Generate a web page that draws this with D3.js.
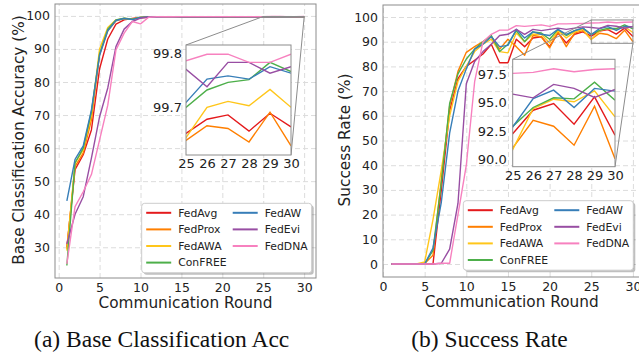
<!DOCTYPE html>
<html>
<head>
<meta charset="utf-8">
<script src="https://cdn.jsdelivr.net/npm/d3@7"></script>
<style>
  body { margin: 0; background: #fff; }
  svg { display: block; }
</style>
</head>
<body>
<svg id="fig" width="639" height="353"></svg>
<script>
// ---- data ----
const rounds = [1, 2, 3, 4, 5, 6, 7, 8, 9, 10, 11, 12, 13, 14, 15, 16, 17, 18, 19, 20, 21, 22, 23, 24, 25, 26, 27, 28, 29, 30];
const methods = ['FedAvg', 'FedProx', 'FedAWA', 'ConFREE', 'FedAW', 'FedEvi', 'FedDNA'];
const colors = ['#e41a1c', '#ff7f00', '#ffc61a', '#4daf4a', '#377eb8', '#984ea3', '#f781bf'];

// (a) base classification accuracy (%)
const accFedAvg  = [30, 53.5, 58, 65.5, 84, 93, 97.5, 98.8, 99.2, 99.5, 99.6, 99.62, 99.64, 99.63, 99.65, 99.66, 99.64, 99.67, 99.65, 99.66, 99.67, 99.68, 99.66, 99.67, 99.652, 99.678, 99.686, 99.656, 99.689, 99.664];
const accFedProx = [29.5, 54.5, 58.5, 68.5, 88.5, 95.5, 98.5, 99.2, 99.1, 99.5, 99.6, 99.61, 99.63, 99.62, 99.64, 99.65, 99.63, 99.66, 99.64, 99.65, 99.66, 99.65, 99.64, 99.66, 99.639, 99.666, 99.661, 99.636, 99.691, 99.629];
const accFedAWA  = [29, 55.5, 59.5, 70, 90, 96.5, 98.8, 99.2, 99.0, 99.5, 99.62, 99.64, 99.66, 99.65, 99.67, 99.68, 99.67, 99.69, 99.68, 99.69, 99.7, 99.69, 99.7, 99.69, 99.644, 99.7, 99.711, 99.703, 99.733, 99.7];
const accConFREE = [24.5, 55.5, 60, 71, 88.5, 96, 98.8, 99.3, 99.0, 99.55, 99.65, 99.67, 99.69, 99.68, 99.7, 99.71, 99.7, 99.72, 99.71, 99.72, 99.73, 99.72, 99.71, 99.72, 99.7, 99.732, 99.746, 99.751, 99.783, 99.766];
const accFedAW   = [44, 56.6, 60.7, 71.5, 88, 95.5, 98.6, 99.2, 98.9, 99.55, 99.66, 99.68, 99.7, 99.69, 99.71, 99.72, 99.71, 99.73, 99.72, 99.73, 99.74, 99.73, 99.72, 99.73, 99.709, 99.752, 99.758, 99.752, 99.775, 99.763];
const accFedEvi  = [31, 40, 45.3, 57, 69.5, 78.2, 90.7, 96, 98.3, 99.3, 99.65, 99.7, 99.72, 99.73, 99.74, 99.75, 99.74, 99.76, 99.75, 99.76, 99.77, 99.76, 99.77, 99.76, 99.77, 99.738, 99.783, 99.783, 99.763, 99.775];
const accFedDNA  = [25, 42.3, 46.8, 52, 62.5, 73, 89.7, 94.8, 98.3, 97.6, 99.6, 99.72, 99.75, 99.76, 99.77, 99.78, 99.77, 99.78, 99.79, 99.78, 99.79, 99.78, 99.79, 99.78, 99.786, 99.798, 99.798, 99.783, 99.783, 99.798];

// (b) success rate (%)
const srFedAvg  = [0, 0, 0, 0, 0, 0, 30, 62, 75, 80, 82.5, 85, 89, 81.5, 81.5, 91, 88, 91.5, 92, 88, 93.5, 89.5, 93, 94, 92.26, 94.32, 94.91, 93.09, 95.5, 92.12];
const srFedProx = [0, 0, 0, 0, 0.2, 3.5, 34, 64, 78, 85.7, 88, 90, 92, 87, 91, 88, 84.5, 92.5, 92, 87.5, 94, 88, 93.5, 94.5, 91.0, 93.44, 92.91, 91.24, 94.68, 90.06];
const srFedAWA  = [0, 0, 0, 0, 0.8, 18, 38, 60, 74, 80, 86, 89, 91, 86, 85.5, 93.5, 90, 93, 93, 89.5, 94.5, 91.5, 94, 95, 90.85, 94.47, 95.29, 95.06, 96.03, 93.74];
const srConFREE = [0, 0, 0, 0, 0, 5.5, 33, 65, 77, 83, 87, 90, 92.5, 86, 89, 94.5, 90, 94, 93.5, 91, 95, 92.5, 94.5, 95.5, 92.9, 94.56, 95.41, 95.32, 96.79, 95.21];
const srFedAW   = [0, 0, 0, 0, 0, 6.5, 25, 53, 70, 79, 87, 89, 92, 88, 88.5, 95, 91.5, 94, 93, 92.5, 95, 93, 94.5, 95.5, 92.85, 95.35, 96.09, 94.56, 96.24, 96.0];
const srFedEvi  = [0, 0, 0, 0, 0, 0, 0.3, 6, 24.5, 73, 82, 86, 89, 92.5, 93, 95, 93, 95, 94.5, 95, 95.5, 95, 95.5, 96, 95.74, 95.41, 96.59, 96.24, 95.44, 96.15];
const srFedDNA  = [0, 0, 0, 0, 0, 0, 0.3, 0.3, 20, 40, 73.8, 90, 93, 94.7, 94.7, 96.5, 96.2, 96.5, 96.8, 96.2, 97.2, 97.2, 97.3, 97.4, 97.56, 97.65, 97.97, 97.7, 97.9, 97.97];

// ticks
const xTicks = [0, 5, 10, 15, 20, 25, 30];
const accTicks = [30, 40, 50, 60, 70, 80, 90, 100];
const srTicks = [0, 10, 20, 30, 40, 50, 60, 70, 80, 90, 100];
const insetXTicks = [25, 26, 27, 28, 29, 30];
const accInsetTicks = [99.7, 99.8];
const srInsetTicks = [90.0, 92.5, 95.0, 97.5];

const accSeries = [accFedAvg, accFedProx, accFedAWA, accConFREE, accFedAW, accFedEvi, accFedDNA];
const srSeries = [srFedAvg, srFedProx, srFedAWA, srConFREE, srFedAW, srFedEvi, srFedDNA];

const FONT = "'DejaVu Sans', sans-serif";
const INK = '#222';
const svg = d3.select('#fig');

function drawPanel(id, p) {
    const g = svg.append('g');
    const x = d3.scaleLinear().domain(p.xDom).range([p.x0, p.x1]);
    const y = d3.scaleLinear().domain(p.yDom).range([p.y1, p.y0]);
    const w = p.x1 - p.x0, h = p.y1 - p.y0;

    g.append('rect').attr('x', p.x0).attr('y', p.y0).attr('width', w).attr('height', h).attr('fill', '#fff');

    // grid
    const gx = g.append('g').attr('transform', `translate(0,${p.y1})`)
        .call(d3.axisBottom(x).tickValues(xTicks).tickSize(-h).tickFormat(''));
    const gy = g.append('g').attr('transform', `translate(${p.x0},0)`)
        .call(d3.axisLeft(y).tickValues(p.yTicks).tickSize(-w).tickFormat(''));
    [gx, gy].forEach(a => {
        a.select('.domain').remove();
        a.selectAll('line').attr('stroke', '#dcdcdc').attr('stroke-dasharray', '5,3').attr('stroke-width', 1);
    });

    // lines
    g.append('clipPath').attr('id', 'clip' + id)
        .append('rect').attr('x', p.x0).attr('y', p.y0).attr('width', w).attr('height', h);
    const line = d3.line().x((d, i) => x(rounds[i])).y(d => y(d));
    g.append('g').attr('clip-path', `url(#clip${id})`)
        .selectAll('path').data(p.series).enter().append('path')
        .attr('d', line).attr('fill', 'none')
        .attr('stroke', (d, i) => colors[i]).attr('stroke-width', 1.4)
        .attr('stroke-linejoin', 'round');

    // frame
    g.append('rect').attr('x', p.x0).attr('y', p.y0).attr('width', w).attr('height', h)
        .attr('fill', 'none').attr('stroke', '#8c8c8c').attr('stroke-width', 1);

    // tick labels
    const ax = g.append('g').attr('transform', `translate(0,${p.y1})`)
        .call(d3.axisBottom(x).tickValues(xTicks).tickSize(0).tickPadding(5).tickFormat(d3.format('d')));
    const ay = g.append('g').attr('transform', `translate(${p.x0},0)`)
        .call(d3.axisLeft(y).tickValues(p.yTicks).tickSize(0).tickPadding(5).tickFormat(d3.format('d')));
    [ax, ay].forEach(a => {
        a.select('.domain').remove();
        a.selectAll('text').attr('font-family', FONT).attr('font-size', 12.5).attr('fill', INK);
    });

    // axis titles
    g.append('text').attr('x', p.xLabelX).attr('y', p.xLabelY)
        .attr('text-anchor', 'middle').attr('font-family', FONT).attr('font-size', 15.3)
        .attr('fill', INK).text('Communication Round');
    g.append('text').attr('transform', `translate(${p.yLabelX},${p.yLabelMid}) rotate(-90)`)
        .attr('text-anchor', 'middle').attr('font-family', FONT).attr('font-size', 15.3)
        .attr('fill', INK).text(p.yLabel);

    // inset
    const q = p.inset;
    const ix = d3.scaleLinear().domain([25, 30]).range([q.x0, q.x1]);
    const iy = d3.scaleLinear().domain(q.yDom).range([q.y1, q.y0]);

    // zoom box and connectors
    const zx0 = x(25), zx1 = x(30), zy0 = y(q.yDom[1]), zy1 = y(q.yDom[0]);
    g.append('rect').attr('x', zx0).attr('y', zy0).attr('width', zx1 - zx0).attr('height', Math.max(zy1 - zy0, 0.5))
        .attr('fill', 'none').attr('stroke', '#8c8c8c').attr('stroke-width', 1);
    g.append('line').attr('x1', q.x0).attr('y1', q.y0).attr('x2', zx0).attr('y2', zy0)
        .attr('stroke', '#8c8c8c').attr('stroke-width', 1);
    g.append('line').attr('x1', q.x1).attr('y1', q.y1).attr('x2', zx1).attr('y2', zy1)
        .attr('stroke', '#8c8c8c').attr('stroke-width', 1);

    g.append('rect').attr('x', q.x0).attr('y', q.y0).attr('width', q.x1 - q.x0).attr('height', q.y1 - q.y0).attr('fill', '#fff');
    g.append('clipPath').attr('id', 'iclip' + id)
        .append('rect').attr('x', q.x0).attr('y', q.y0).attr('width', q.x1 - q.x0).attr('height', q.y1 - q.y0);
    const iline = d3.line().x((d, i) => ix(rounds[i])).y(d => iy(d));
    g.append('g').attr('clip-path', `url(#iclip${id})`)
        .selectAll('path').data(p.series).enter().append('path')
        .attr('d', iline).attr('fill', 'none')
        .attr('stroke', (d, i) => colors[i]).attr('stroke-width', 1.4);
    g.append('rect').attr('x', q.x0).attr('y', q.y0).attr('width', q.x1 - q.x0).attr('height', q.y1 - q.y0)
        .attr('fill', 'none').attr('stroke', '#8c8c8c').attr('stroke-width', 1);
    const iax = g.append('g').attr('transform', `translate(0,${q.y1})`)
        .call(d3.axisBottom(ix).tickValues(insetXTicks).tickSize(0).tickPadding(4).tickFormat(d3.format('d')));
    const iay = g.append('g').attr('transform', `translate(${q.x0},0)`)
        .call(d3.axisLeft(iy).tickValues(q.ticks).tickSize(0).tickPadding(q.pad).tickFormat(d3.format('.1f')));
    [iax, iay].forEach(a => {
        a.select('.domain').remove();
        a.selectAll('text').attr('font-family', FONT).attr('font-size', 13).attr('fill', INK);
    });

    // legend
    const L = p.legend;
    g.append('rect').attr('x', L.x + 2).attr('y', L.y + 2).attr('width', 170).attr('height', 69.5)
        .attr('rx', 3).attr('fill', '#000').attr('opacity', 0.25);
    g.append('rect').attr('x', L.x).attr('y', L.y).attr('width', 170).attr('height', 69.5)
        .attr('rx', 3).attr('fill', '#fff').attr('stroke', '#cccccc').attr('stroke-width', 1);
    const items = g.append('g').selectAll('g').data(methods).enter().append('g')
        .attr('transform', (d, i) => {
            const col = i < 4 ? 0 : 1, row = i < 4 ? i : i - 4;
            return `translate(${L.x + (col ? 91 : 4.5)},${L.y + 9.5 + row * 16.6})`;
        });
    items.append('line').attr('x1', 0).attr('x2', 25).attr('stroke', (d, i) => colors[i]).attr('stroke-width', 2);
    items.append('text').attr('x', 32).attr('dy', '0.35em').attr('font-family', FONT).attr('font-size', 10.8)
        .attr('fill', INK).text(d => d);

    // caption
    svg.append('text').attr('x', p.capX).attr('y', 346.5).attr('text-anchor', 'middle')
        .attr('font-family', "'Liberation Serif', 'Times New Roman', serif").attr('font-size', 23.5)
        .attr('fill', '#111').text(p.caption);
}

drawPanel('a', {
    xDom: [-0.45, 31.45], x0: 55, x1: 316,
    yDom: [20.7, 103.6], y0: 4, y1: 278,
    yTicks: accTicks, series: accSeries,
    xLabelX: 185.5, xLabelY: 307.5, yLabelX: 23.5, yLabelMid: 140,
    yLabel: 'Base Classification Accuracy (%)',
    inset: { x0: 186, x1: 291, y0: 45, y1: 155, yDom: [99.612, 99.815], ticks: accInsetTicks, pad: 4 },
    legend: { x: 141.7, y: 203.3 },
    capX: 161.7, caption: '(a) Base Classification Acc'
});

drawPanel('b', {
    xDom: [0, 31.45], x0: 383, x1: 645,
    yDom: [-5.26, 104.86], y0: 5, y1: 277,
    yTicks: srTicks, series: srSeries,
    xLabelX: 511.7, xLabelY: 307, yLabelX: 349.5, yLabelMid: 140,
    yLabel: 'Success Rate (%)',
    inset: { x0: 512.7, x1: 615, y0: 59.3, y1: 166.7, yDom: [89.35, 98.8], ticks: srInsetTicks, pad: 6 },
    legend: { x: 463.3, y: 200.7 },
    capX: 489.5, caption: '(b) Success Rate'
});
</script>
</body>
</html>
